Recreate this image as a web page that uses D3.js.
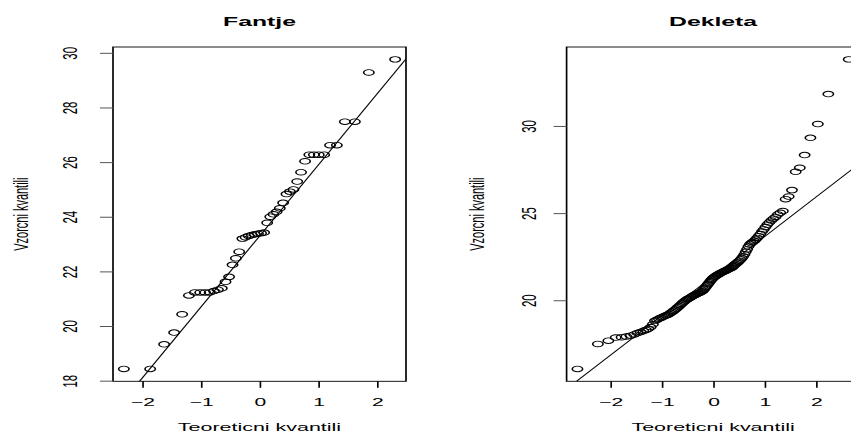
<!DOCTYPE html>
<html>
<head>
<meta charset="utf-8">
<script src="https://cdn.jsdelivr.net/npm/d3@7"></script>
<style>
  html, body { margin: 0; padding: 0; background: #ffffff; }
  svg { display: block; }
</style>
</head>
<body>
<svg id="chart" width="851" height="435"></svg>
<script>
// ---------------- DATA ----------------
// Sorted sample values (y of each point in the normal Q-Q plots)
const fantje = [
  18.43, 18.43, 19.33, 19.76, 20.43, 21.12, 21.23, 21.23, 21.23, 21.23,
  21.28, 21.33, 21.38, 21.62, 21.80, 22.24, 22.48, 22.72, 23.20, 23.25,
  23.30, 23.33, 23.36, 23.38, 23.40, 23.42, 23.78, 24.00, 24.09, 24.18,
  24.31, 24.51, 24.83, 24.92, 25.00, 25.29, 25.63, 26.03, 26.27, 26.27,
  26.27, 26.27, 26.62, 26.62, 27.48, 27.48, 29.28, 29.76
];
const dekleta = [
  16.06, 17.49, 17.68, 17.86, 17.88, 17.92, 17.97, 18.04, 18.12, 18.18,
  18.24, 18.30, 18.36, 18.46, 18.62, 18.82, 18.88, 18.94, 18.99, 19.04,
  19.08, 19.12, 19.16, 19.21, 19.27, 19.33, 19.39, 19.45, 19.52, 19.59,
  19.66, 19.73, 19.80, 19.87, 19.93, 19.99, 20.04, 20.08, 20.12, 20.16,
  20.20, 20.24, 20.28, 20.31, 20.34, 20.37, 20.40, 20.43, 20.46, 20.50,
  20.55, 20.62, 20.70, 20.78, 20.86, 20.94, 21.02, 21.10, 21.18, 21.25,
  21.30, 21.35, 21.39, 21.43, 21.47, 21.51, 21.55, 21.58, 21.61, 21.64,
  21.67, 21.70, 21.73, 21.76, 21.79, 21.82, 21.85, 21.90, 21.96, 22.02,
  22.08, 22.14, 22.20, 22.27, 22.34, 22.42, 22.52, 22.64, 22.78, 22.92,
  23.08, 23.20, 23.28, 23.34, 23.40, 23.48, 23.58, 23.68, 23.80, 23.94,
  24.06, 24.20, 24.34, 24.46, 24.58, 24.68, 24.78, 24.92, 25.02, 25.12,
  25.80, 25.95, 26.32, 27.37, 27.60, 28.33, 29.32, 30.11, 31.83, 33.82
];
// Reference lines (intercept, slope)
const fantjeLine = [23.29, 2.60];
const dekletaLine = [21.38, 2.27];

// Titles and axis texts
const panelTitles = ["Fantje", "Dekleta"];
const xAxisTitle = "Teoreticni kvantili";
const yAxisTitle = "Vzorcni kvantili";

// Tick values / labels
const xTicks = [-2, -1, 0, 1, 2];
const xTickLabels = ["\u22122", "\u22121", "0", "1", "2"];
const fantjeYTicks = [18, 20, 22, 24, 26, 28, 30];
const fantjeYTickLabels = ["18", "20", "22", "24", "26", "28", "30"];
const dekletaYTicks = [20, 25, 30];
const dekletaYTickLabels = ["20", "25", "30"];

// ---------------- HELPERS ----------------
// Inverse standard normal CDF (Acklam), used like R's qnorm
function qnorm(p) {
  const a = [-3.969683028665376e+01, 2.209460984245205e+02, -2.759285104469687e+02,
             1.383577518672690e+02, -3.066479806614716e+01, 2.506628277459239e+00];
  const b = [-5.447609879822406e+01, 1.615858368580409e+02, -1.556989798598866e+02,
             6.680131188771972e+01, -1.328068155288572e+01];
  const c = [-7.784894002430293e-03, -3.223964580411365e-01, -2.400758277161838e+00,
             -2.549732539343734e+00, 4.374664141464968e+00, 2.938163982698783e+00];
  const d = [7.784695709041462e-03, 3.224671290700398e-01, 2.445134137142996e+00,
             3.754408661907416e+00];
  const pl = 0.02425;
  let q, r;
  if (p < pl) {
    q = Math.sqrt(-2 * Math.log(p));
    return (((((c[0]*q+c[1])*q+c[2])*q+c[3])*q+c[4])*q+c[5]) / ((((d[0]*q+d[1])*q+d[2])*q+d[3])*q+1);
  }
  if (p > 1 - pl) {
    q = Math.sqrt(-2 * Math.log(1 - p));
    return -(((((c[0]*q+c[1])*q+c[2])*q+c[3])*q+c[4])*q+c[5]) / ((((d[0]*q+d[1])*q+d[2])*q+d[3])*q+1);
  }
  q = p - 0.5; r = q * q;
  return (((((a[0]*r+a[1])*r+a[2])*r+a[3])*r+a[4])*r+a[5])*q / (((((b[0]*r+b[1])*r+b[2])*r+b[3])*r+b[4])*r+1);
}
// theoretical quantiles of a normal Q-Q plot (R: qnorm(ppoints(n)))
function theoretical(n) {
  const a = n <= 10 ? 3 / 8 : 0.5;
  return d3.range(1, n + 1).map(i => qnorm((i - a) / (n + 1 - 2 * a)));
}
function padExtent(ext) {
  const r = ext[1] - ext[0];
  return [ext[0] - 0.04 * r, ext[1] + 0.04 * r];
}

// ---------------- LAYOUT ----------------
const FONT = '"Liberation Sans", Arial, Helvetica, sans-serif';
const S = 1.85;           // horizontal stretch of the whole picture
const BOX_TOP = 47, BOX_BOTTOM = 381.3;

const panels = [
  { title: panelTitles[0], values: fantje, line: fantjeLine,
    yTicks: fantjeYTicks, yTickLabels: fantjeYTickLabels,
    boxLeft: 113, boxWidth: 293, tickLabOff: 43, yTitleOff: 92, clip: "clipA" },
  { title: panelTitles[1], values: dekleta, line: dekletaLine,
    yTicks: dekletaYTicks, yTickLabels: dekletaYTickLabels,
    boxLeft: 566.6, boxWidth: 293, tickLabOff: 38, yTitleOff: 90, clip: "clipB" }
];

const svg = d3.select("#chart");
svg.append("rect").attr("width", 851).attr("height", 435).attr("fill", "#fff");
const root = svg.append("g").attr("transform", `scale(${S},1)`);
const defs = svg.append("defs");

panels.forEach(p => {
  const n = p.values.length;
  const tq = theoretical(n);
  const pts = tq.map((t, i) => ({ x: t, y: p.values[i] }));

  const xl = p.boxLeft / S, xr = (p.boxLeft + p.boxWidth) / S;
  const x = d3.scaleLinear().domain(padExtent(d3.extent(tq))).range([xl, xr]);
  const y = d3.scaleLinear().domain(padExtent(d3.extent(p.values))).range([BOX_BOTTOM, BOX_TOP]);

  const g = root.append("g");

  defs.append("clipPath").attr("id", p.clip)
    .append("rect")
    .attr("x", xl * S).attr("y", BOX_TOP)
    .attr("width", (xr - xl) * S).attr("height", BOX_BOTTOM - BOX_TOP);

  // points
  g.append("g").selectAll("circle").data(pts).join("circle")
    .attr("cx", d => x(d.x)).attr("cy", d => y(d.y)).attr("r", 2.8)
    .attr("fill", "none").attr("stroke", "#000").attr("stroke-width", 0.85);

  // reference line (clipped to the plot box)
  const xd = x.domain();
  svg.append("g").attr("clip-path", `url(#${p.clip})`)
    .append("g").attr("transform", `scale(${S},1)`)
    .append("line")
    .attr("x1", x(xd[0] - 1)).attr("y1", y(p.line[0] + p.line[1] * (xd[0] - 1)))
    .attr("x2", x(xd[1] + 1)).attr("y2", y(p.line[0] + p.line[1] * (xd[1] + 1)))
    .attr("stroke", "#000").attr("stroke-width", 0.75);

  // box
  g.append("rect")
    .attr("x", xl).attr("y", BOX_TOP)
    .attr("width", xr - xl).attr("height", BOX_BOTTOM - BOX_TOP)
    .attr("fill", "none").attr("stroke", "#000").attr("stroke-width", 0.9);

  // x axis
  const gx = g.append("g").attr("transform", `translate(0,${BOX_BOTTOM})`)
    .call(d3.axisBottom(x).tickValues(xTicks)
      .tickFormat((d, i) => xTickLabels[i]).tickSize(6.5).tickSizeOuter(0));
  gx.select(".domain").remove();
  gx.attr("font-family", FONT).attr("font-size", 11.4);
  gx.selectAll(".tick line").attr("stroke", "#000").attr("stroke-width", 0.9);
  gx.selectAll(".tick text").attr("y", 24.4).attr("dy", null).attr("fill", "#000");

  // y axis
  const gy = g.append("g").attr("transform", `translate(${xl},0)`)
    .call(d3.axisLeft(y).tickValues(p.yTicks)
      .tickFormat((d, i) => p.yTickLabels[i]).tickSize(13 / S).tickSizeOuter(0));
  gy.select(".domain").remove();
  gy.attr("font-family", FONT).attr("font-size", 11.4);
  gy.selectAll(".tick line").attr("stroke", "#555").attr("stroke-width", 1);
  gy.selectAll(".tick text")
    .attr("x", 0).attr("y", 0).attr("dy", "0.35em")
    .attr("text-anchor", "middle").attr("fill", "#000")
    .attr("transform", `translate(${-p.tickLabOff / S},0) rotate(-90)`);

  // title
  const cx = (xl + xr) / 2;
  g.append("text").attr("x", cx).attr("y", 26)
    .attr("text-anchor", "middle").attr("font-family", FONT)
    .attr("font-weight", "bold").attr("font-size", 13.4).text(p.title);

  // x axis title
  g.append("text").attr("x", cx).attr("y", 431.5)
    .attr("text-anchor", "middle").attr("font-family", FONT)
    .attr("font-size", 11.6).text(xAxisTitle);

  // y axis title
  g.append("text")
    .attr("transform", `translate(${xl - p.yTitleOff / S},${(BOX_TOP + BOX_BOTTOM) / 2}) rotate(-90)`)
    .attr("dy", "0.35em")
    .attr("text-anchor", "middle").attr("font-family", FONT)
    .attr("font-size", 11).text(yAxisTitle);
});
</script>
</body>
</html>
